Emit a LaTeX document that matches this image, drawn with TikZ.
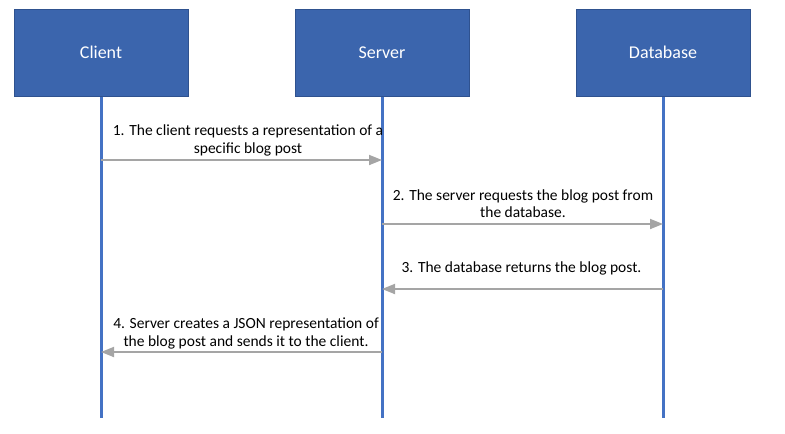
\documentclass[tikz,border=0pt]{standalone}
\usepackage{fontspec}
\setmainfont{Carlito}
\usetikzlibrary{arrows.meta}
\definecolor{boxfill}{HTML}{3B65AD}
\definecolor{boxline}{HTML}{2F528F}
\definecolor{lifeline}{HTML}{4472C4}
\definecolor{msg}{HTML}{A5A5A5}
\begin{document}
\begin{tikzpicture}[x=1pt,y=-1pt,
  actor/.style={draw=boxline,line width=1pt,fill=boxfill,minimum width=174pt,minimum height=87pt,inner sep=0pt,text=white,font=\fontsize{18}{21}\selectfont},
  life/.style={draw=lifeline,line width=3pt},
  msgarrow/.style={draw=msg,line width=1.8pt,-{Triangle[length=13pt,width=10pt]}},
  msglabel/.style={align=center,font=\fontsize{15.5}{17.5}\selectfont,inner sep=0pt}]
\useasboundingbox (0,0) rectangle (785,434);
\node[actor] (client) at (101,52.5) {Client};
\node[actor] (server) at (382,52.5) {Server};
\node[actor] (db) at (663,52.5) {Database};
\coordinate (clientend) at (101,418);
\coordinate (serverend) at (382,418);
\coordinate (dbend) at (663,418);
\draw[life] (client.south) -- (clientend);
\draw[life] (server.south) -- (serverend);
\draw[life] (db.south) -- (dbend);
\coordinate (m1s) at (101,160);
\coordinate (m1e) at (382,160);
\coordinate (m2s) at (382,224);
\coordinate (m2e) at (663,224);
\coordinate (m3s) at (663,289);
\coordinate (m3e) at (382,289);
\coordinate (m4s) at (382,352);
\coordinate (m4e) at (101,352);
\draw[msgarrow] (m1s) -- (m1e);
\draw[msgarrow] (m2s) -- (m2e);
\draw[msgarrow] (m3s) -- (m3e);
\draw[msgarrow] (m4s) -- (m4e);
\node[msglabel] (l1) at (248,140.5) {1. The client requests a representation of a\\specific blog post};
\node[msglabel] (l2) at (523,203.5) {2. The server requests the blog post from\\the database.};
\node[msglabel] (l3) at (521.5,268.5) {3. The database returns the blog post.};
\node[msglabel] (l4) at (246,333.5) {4. Server creates a JSON representation of\\the blog post and sends it to the client.};
\end{tikzpicture}
\end{document}
